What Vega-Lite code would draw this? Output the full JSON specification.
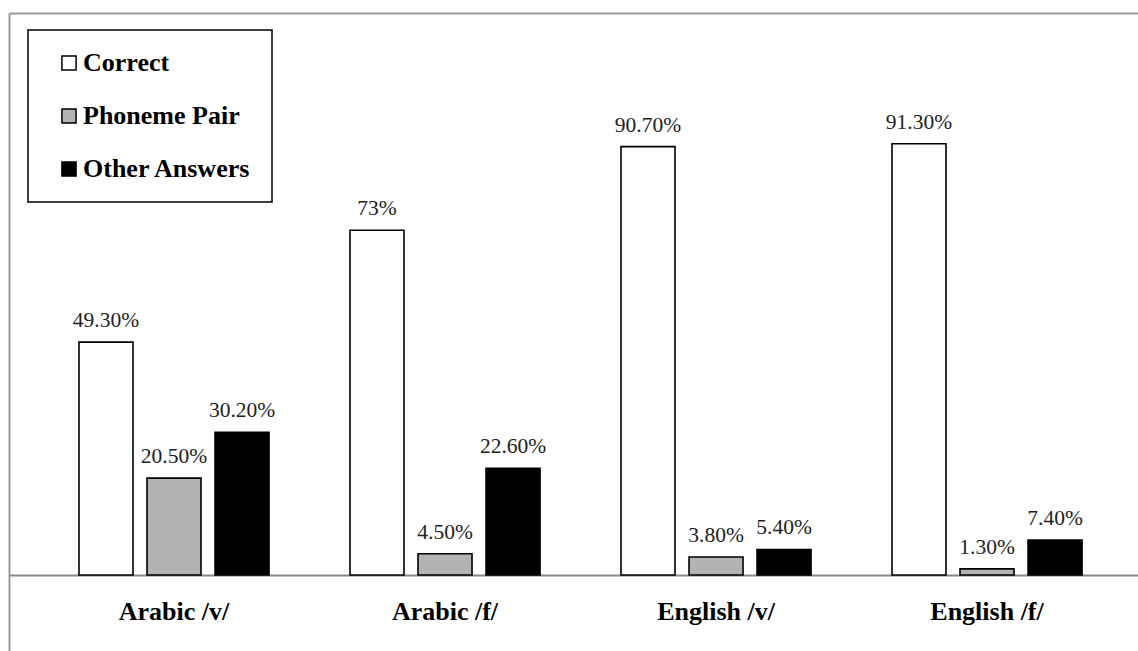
{
  "$schema": "https://vega.github.io/schema/vega-lite/v6.json",
  "autosize": {"type": "none"},
  "padding": {"left": 9, "top": 13, "right": 0, "bottom": 0},
  "width": 1129,
  "height": 638,
  "background": "white",
  "config": {
    "view": {"stroke": null},
    "font": "Liberation Serif"
  },
  "data": {
    "values": [
      {"group": "Arabic /v/", "series": "Correct", "value": 49.3, "label": "49.30%"},
      {"group": "Arabic /v/", "series": "Phoneme Pair", "value": 20.5, "label": "20.50%"},
      {"group": "Arabic /v/", "series": "Other Answers", "value": 30.2, "label": "30.20%"},
      {"group": "Arabic /f/", "series": "Correct", "value": 73, "label": "73%"},
      {"group": "Arabic /f/", "series": "Phoneme Pair", "value": 4.5, "label": "4.50%"},
      {"group": "Arabic /f/", "series": "Other Answers", "value": 22.6, "label": "22.60%"},
      {"group": "English /v/", "series": "Correct", "value": 90.7, "label": "90.70%"},
      {"group": "English /v/", "series": "Phoneme Pair", "value": 3.8, "label": "3.80%"},
      {"group": "English /v/", "series": "Other Answers", "value": 5.4, "label": "5.40%"},
      {"group": "English /f/", "series": "Correct", "value": 91.3, "label": "91.30%"},
      {"group": "English /f/", "series": "Phoneme Pair", "value": 1.3, "label": "1.30%"},
      {"group": "English /f/", "series": "Other Answers", "value": 7.4, "label": "7.40%"}
    ]
  },
  "resolve": {"axis": {"x": "independent"}},
  "layer": [
    {
      "mark": {"type": "bar", "stroke": "black", "strokeWidth": 1.6},
      "encoding": {
        "x": {
          "field": "group", "type": "nominal", "sort": null,
          "scale": {"paddingInner": 0, "paddingOuter": 0.083, "align": 0.656},
          "axis": {
            "orient": "bottom", "offset": -76, "title": null, "ticks": false, "tickSize": 0,
            "labelAngle": 0, "labelFont": "Liberation Serif", "labelFontWeight": "bold",
            "labelFontSize": 26, "labelColor": "black", "labelPadding": 23,
            "domainColor": "#888888", "domainWidth": 2
          }
        },
        "xOffset": {
          "field": "series", "type": "nominal",
          "sort": ["Correct", "Phoneme Pair", "Other Answers"],
          "scale": {"paddingInner": 0.206, "paddingOuter": 0.595}
        },
        "y": {
          "field": "value", "type": "quantitative",
          "scale": {"domain": [-16.1, 119.0], "nice": false, "zero": false},
          "axis": {
            "title": null, "labels": false, "ticks": false, "grid": false,
            "domainColor": "#999999", "domainWidth": 2
          }
        },
        "color": {
          "field": "series", "type": "nominal",
          "scale": {
            "domain": ["Correct", "Phoneme Pair", "Other Answers"],
            "range": ["white", "#b3b3b3", "black"]
          },
          "legend": {
            "title": null, "orient": "none", "legendX": 19, "legendY": 17,
            "strokeColor": "black", "fillColor": "white",
            "padding": 20, "symbolOffset": 8,
            "symbolType": "square", "symbolSize": 200, "symbolStrokeColor": "black",
            "symbolStrokeWidth": 1.5,
            "labelFont": "Liberation Serif", "labelFontWeight": "bold",
            "labelFontSize": 26, "labelColor": "black", "labelLimit": 400,
            "rowPadding": 27, "labelOffset": 1,
            "encode": {"legend": {"update": {"strokeWidth": {"value": 1.5}}}}
          }
        }
      }
    },
    {
      "mark": {"type": "text", "baseline": "alphabetic", "dy": -15, "fontSize": 21.5, "font": "Liberation Serif", "color": "#222222"},
      "encoding": {
        "x": {
          "field": "group", "type": "nominal", "sort": null,
          "axis": {
            "orient": "top", "title": null, "labels": false, "ticks": false,
            "domainColor": "#999999", "domainWidth": 2
          }
        },
        "xOffset": {
          "field": "series", "type": "nominal",
          "sort": ["Correct", "Phoneme Pair", "Other Answers"]
        },
        "y": {"field": "value", "type": "quantitative"},
        "text": {"field": "label"}
      }
    }
  ]
}
